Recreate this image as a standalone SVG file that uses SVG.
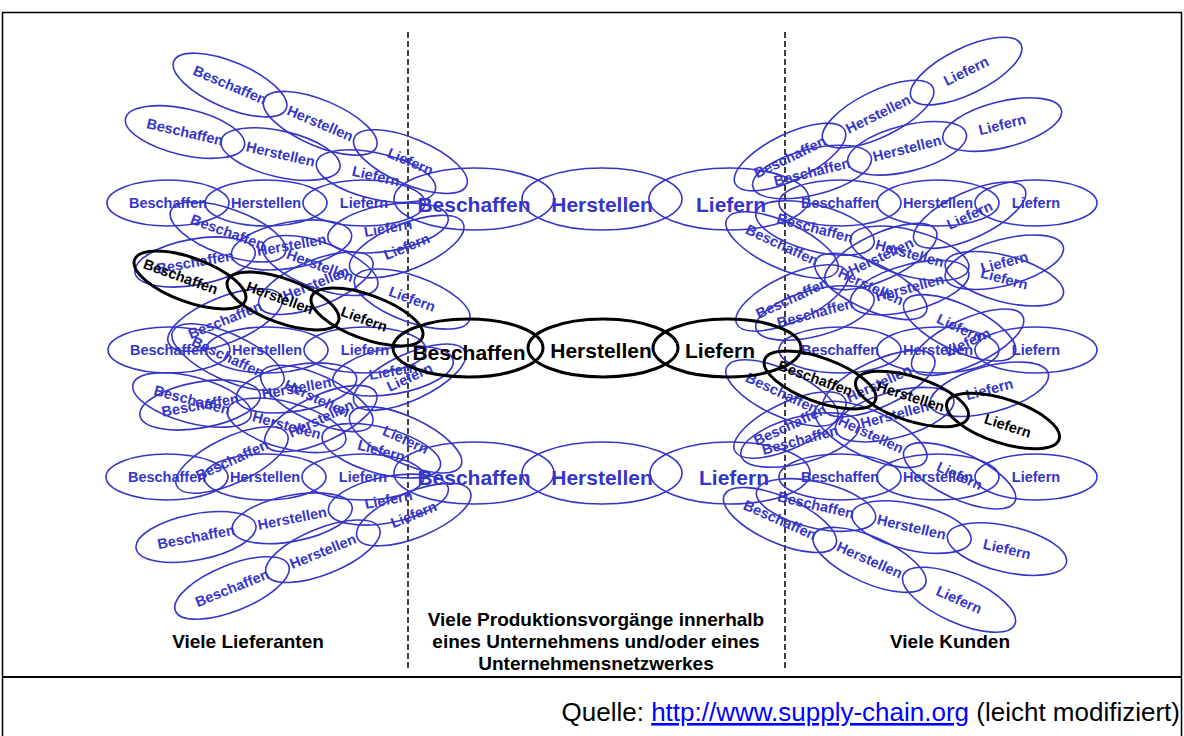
<svg xmlns="http://www.w3.org/2000/svg" xmlns:xlink="http://www.w3.org/1999/xlink" width="1184" height="736" viewBox="0 0 1184 736">
<style>
.t{font-family:"Liberation Sans",Arial,sans-serif;font-weight:bold;text-anchor:middle}
.lbl{font-family:"Liberation Sans",Arial,sans-serif;font-weight:bold;font-size:19px;text-anchor:middle;fill:#000}
.big{font-size:21px}
.bl{fill:#3535c8}
.bk{fill:#000}
.eb{fill:none;stroke:#3535c8;stroke-width:1.6}
.ek{fill:none;stroke:#000;stroke-width:3}
.dash{stroke:#000;stroke-width:1.5;stroke-dasharray:6 3}
</style>
<defs>
<g id="cb">
<ellipse cx="0" cy="0" rx="61" ry="23" fill="none" stroke="#3535c8" stroke-width="1.6"/>
<ellipse cx="98" cy="0" rx="61" ry="23" fill="none" stroke="#3535c8" stroke-width="1.6"/>
<ellipse cx="196" cy="0" rx="61" ry="23" fill="none" stroke="#3535c8" stroke-width="1.6"/>
<text x="0" y="5" fill="#3535c8" font-family="Liberation Sans, Arial, sans-serif" font-weight="bold" font-size="14.5" text-anchor="middle">Beschaffen</text>
<text x="98" y="5" fill="#3535c8" font-family="Liberation Sans, Arial, sans-serif" font-weight="bold" font-size="14.5" text-anchor="middle">Herstellen</text>
<text x="196" y="5" fill="#3535c8" font-family="Liberation Sans, Arial, sans-serif" font-weight="bold" font-size="14.5" text-anchor="middle">Liefern</text>
</g>
</defs>
<rect width="1184" height="736" fill="#fff"/>
<rect x="2.5" y="12.5" width="1179" height="730" fill="none" stroke="#000" stroke-width="1.5"/>
<line x1="2" y1="677" x2="1182" y2="677" stroke="#000" stroke-width="2"/>
<g id="dividers">
<line class="dash" x1="408" y1="32" x2="408" y2="668"/>
<line class="dash" x1="785" y1="32" x2="785" y2="668"/>
</g>
<g id="left-chains">
<use id="l1" xlink:href="#cb" transform="translate(230,85) rotate(23)"/>
<use id="l2" xlink:href="#cb" transform="translate(185,132) rotate(13)"/>
<use id="l3" xlink:href="#cb" transform="translate(168,203)"/>
<use id="la" xlink:href="#cb" transform="translate(228,232) rotate(20)"/>
<use id="lb" xlink:href="#cb" transform="translate(195,262) rotate(-10)"/>
<use id="lc" xlink:href="#cb" transform="translate(225,320) rotate(-22)"/>
<use id="l4" xlink:href="#cb" transform="translate(169,350)"/>
<use id="ld" xlink:href="#cb" transform="translate(228,357) rotate(25)"/>
<use id="lf" xlink:href="#cb" transform="translate(200,405) rotate(-10)"/>
<use id="lg" xlink:href="#cb" transform="translate(192,400) rotate(15)"/>
<use id="le" xlink:href="#cb" transform="translate(232,460) rotate(-25)"/>
<use id="l5" xlink:href="#cb" transform="translate(167,477)"/>
<use id="l6" xlink:href="#cb" transform="translate(196,537) rotate(-11)"/>
<use id="l7" xlink:href="#cb" transform="translate(232,588) rotate(-22)"/>
</g>
<g id="right-chains">
<use id="r1" xlink:href="#cb" transform="translate(790,157) rotate(-26)"/>
<use id="r2" xlink:href="#cb" transform="translate(812,172) rotate(-14)"/>
<use id="r3" xlink:href="#cb" transform="translate(840,203)"/>
<use id="ra" xlink:href="#cb" transform="translate(815,228) rotate(15)"/>
<use id="rb" xlink:href="#cb" transform="translate(782,245) rotate(25)"/>
<use id="rc" xlink:href="#cb" transform="translate(792,298) rotate(-25)"/>
<use id="rd" xlink:href="#cb" transform="translate(815,313) rotate(-15)"/>
<use id="r4" xlink:href="#cb" transform="translate(840,350)"/>
<use id="rg" xlink:href="#cb" transform="translate(782,393) rotate(25)"/>
<use id="re" xlink:href="#cb" transform="translate(790,425) rotate(-25)"/>
<use id="rf" xlink:href="#cb" transform="translate(800,440) rotate(-15)"/>
<use id="r5" xlink:href="#cb" transform="translate(840,477)"/>
<use id="r6" xlink:href="#cb" transform="translate(816,505) rotate(13)"/>
<use id="r7" xlink:href="#cb" transform="translate(780,520) rotate(24)"/>
</g>
<g id="center-top">
<ellipse class="eb" cx="474" cy="199" rx="80" ry="31"/>
<ellipse class="eb" cx="602" cy="199" rx="80" ry="31"/>
<ellipse class="eb" cx="729" cy="199" rx="80" ry="31"/>
<text class="t big bl" x="474" y="212">Beschaffen</text>
<text class="t big bl" x="602" y="212">Herstellen</text>
<text class="t big bl" x="731" y="212">Liefern</text>
</g>
<g id="center-bottom">
<ellipse class="eb" cx="474" cy="473" rx="80" ry="31"/>
<ellipse class="eb" cx="602" cy="473" rx="80" ry="31"/>
<ellipse class="eb" cx="730" cy="473" rx="80" ry="31"/>
<text class="t big bl" x="474" y="485">Beschaffen</text>
<text class="t big bl" x="602" y="485">Herstellen</text>
<text class="t big bl" x="734" y="485">Liefern</text>
</g>
<g id="center-main">
<ellipse class="ek" cx="468" cy="348" rx="75" ry="29"/>
<ellipse class="ek" cx="603" cy="348" rx="75" ry="29"/>
<ellipse class="ek" cx="727" cy="348" rx="74" ry="29"/>
<text class="t big bk" x="469" y="360">Beschaffen</text>
<text class="t big bk" x="601" y="358">Herstellen</text>
<text class="t big bk" x="720" y="358">Liefern</text>
</g>
<g id="left-main">
<g transform="translate(190,280) rotate(20)"><ellipse class="ek" rx="59" ry="22"/><text class="t bk" font-size="14.5" x="-10" y="5">Beschaffen</text></g>
<g transform="translate(283,301) rotate(20)"><ellipse class="ek" rx="59" ry="22"/><text class="t bk" font-size="14.5" x="-4" y="3">Herstellen</text></g>
<g transform="translate(367,317) rotate(20)"><ellipse class="ek" rx="59" ry="22"/><text class="t bk" font-size="14.5" x="-2" y="8">Liefern</text></g>
</g>
<g id="right-main">
<g transform="translate(820,380) rotate(20)"><ellipse class="ek" rx="59" ry="22"/><text class="t bk" font-size="14.5" x="-5" y="5">Beschaffen</text></g>
<g transform="translate(912,399) rotate(18)"><ellipse class="ek" rx="59" ry="22"/><text class="t bk" font-size="14.5" x="-2" y="3">Herstellen</text></g>
<g transform="translate(1003,421) rotate(18)"><ellipse class="ek" rx="59" ry="22"/><text class="t bk" font-size="14.5" x="6" y="8">Liefern</text></g>
</g>
<g id="labels">
<text class="lbl" x="248" y="648">Viele Lieferanten</text>
<text class="lbl" x="596" y="626">Viele Produktionsvorgänge innerhalb</text>
<text class="lbl" x="596" y="648">eines Unternehmens und/oder eines</text>
<text class="lbl" x="596" y="670">Unternehmensnetzwerkes</text>
<text class="lbl" x="950" y="648">Viele Kunden</text>
</g>
<text x="1180" y="721" font-family="Liberation Sans, Arial, sans-serif" font-size="26" text-anchor="end" fill="#000">Quelle: <tspan fill="#0000ff" text-decoration="underline">http://www.supply-chain.org</tspan> (leicht modifiziert)</text>
</svg>
